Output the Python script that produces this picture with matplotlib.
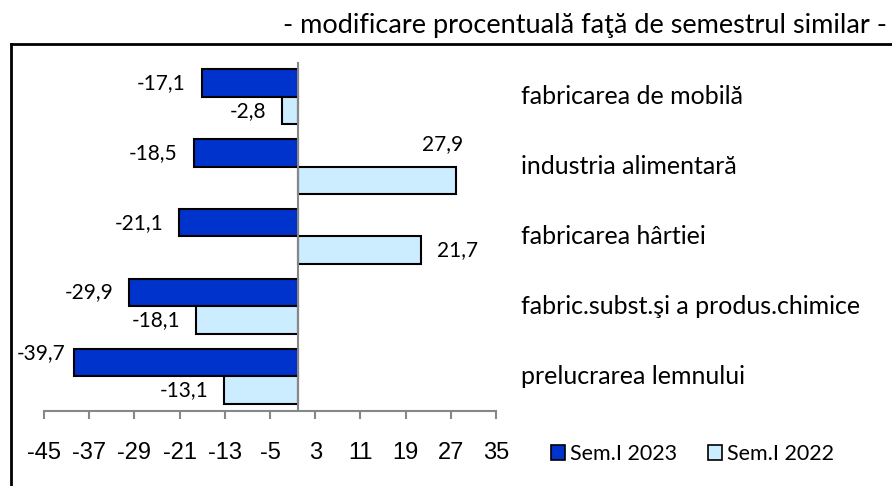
import numpy as np
import matplotlib
matplotlib.use("Agg")
import matplotlib.pyplot as plt
from matplotlib.patches import Patch
from matplotlib.lines import Line2D
import matplotlib.transforms as mtransforms

# ---- data ----
categories = ["fabricarea de mobilă", "industria alimentară", "fabricarea hârtiei",
              "fabric.subst.şi a produs.chimice", "prelucrarea lemnului"]
sem1_2023 = [-17.1, -18.5, -21.1, -29.9, -39.7]
sem1_2022 = [-2.8, 27.9, 21.7, -18.1, -13.1]
series_names = ["Sem.I 2023", "Sem.I 2022"]
xticks = list(range(-45, 36, 8))
title = "- modificare procentuală faţă de semestrul similar -"

# ---- style ----
DARK = "#0033CC"
LIGHT = "#CCECFF"
GRAY = "#878787"
LABEL_FONT = ["Lato", "DejaVu Sans"]
TICK_FONT = ["Liberation Sans", "DejaVu Sans"]

W, H = 892, 486
fig = plt.figure(figsize=(W / 100, H / 100), dpi=100)
ax = fig.add_axes([44 / W, 1 - 411 / H, (496 - 44) / W, (411 - 62) / H])

y = np.arange(len(categories))
h = 0.394
bars1 = ax.barh(y - h / 2, sem1_2023, height=h, color=DARK, edgecolor="black", linewidth=1.5, zorder=2)
bars2 = ax.barh(y + h / 2, sem1_2022, height=h, color=LIGHT, edgecolor="black", linewidth=1.5, zorder=2)

ax.set_xlim(-45, 35)
ax.set_ylim(len(categories) - 0.5, -0.5)
ax.axvline(0, color=GRAY, linewidth=1.5, zorder=3)

for s in ["left", "right", "top"]:
    ax.spines[s].set_visible(False)
ax.spines["bottom"].set_color(GRAY)
ax.spines["bottom"].set_linewidth(1.5)
ax.set_yticks([])
ax.set_xticks(xticks)
ax.set_xticklabels([str(t) for t in xticks], fontfamily=TICK_FONT, fontsize=17)
ax.tick_params(axis="x", direction="out", length=6, width=1.5, color=GRAY, pad=16)
ax.patch.set_visible(False)

# data labels (category index, series index) -> custom offset in pixels
special = {(1, 1): (-13, 36, "center"), (4, 0): (-8, 9, "right")}
for si, (vals, yoff) in enumerate([(sem1_2023, -h / 2), (sem1_2022, h / 2)]):
    for ci, v in enumerate(vals):
        lab = f"{v:.1f}".replace(".", ",")
        if (ci, si) in special:
            dx, dy, ha = special[(ci, si)]
        else:
            dx = 16 if v > 0 else -16
            dy = 0
            ha = "left" if v > 0 else "right"
        ax.annotate(lab, xy=(v, y[ci] + yoff), xytext=(dx, dy), textcoords="offset pixels",
                    ha=ha, va="center", fontsize=15, fontfamily=LABEL_FONT, color="black")

# category labels
trans = mtransforms.blended_transform_factory(fig.transFigure, ax.transData)
for ci, c in enumerate(categories):
    ax.text(521 / W, y[ci], c, transform=trans, ha="left", va="center",
            fontsize=18, fontfamily=LABEL_FONT, color="black")

# title
fig.text(887 / W, 1 - 33 / H, title, ha="right", va="baseline",
         fontsize=19.5, fontfamily=LABEL_FONT, color="black")

# frame lines (top and left)
fig.add_artist(Line2D([11 / W, 1.0], [1 - 44 / H, 1 - 44 / H], transform=fig.transFigure,
                      color="black", linewidth=2))
fig.add_artist(Line2D([11 / W, 11 / W], [1 - 44 / H, 0.0], transform=fig.transFigure,
                      color="black", linewidth=2))

# legend
handles = [Patch(facecolor=DARK, edgecolor="black", linewidth=1.2),
           Patch(facecolor=LIGHT, edgecolor="black", linewidth=1.2)]
fig.legend(handles, series_names, loc="center left", bbox_to_anchor=(551 / W, 1 - 454 / H),
           ncol=2, frameon=False, borderpad=0, borderaxespad=0,
           handlelength=0.65, handleheight=0.65, handletextpad=0.25, columnspacing=1.4,
           prop={"family": LABEL_FONT, "size": 15.5})

fig.savefig("out.png", dpi=100)
